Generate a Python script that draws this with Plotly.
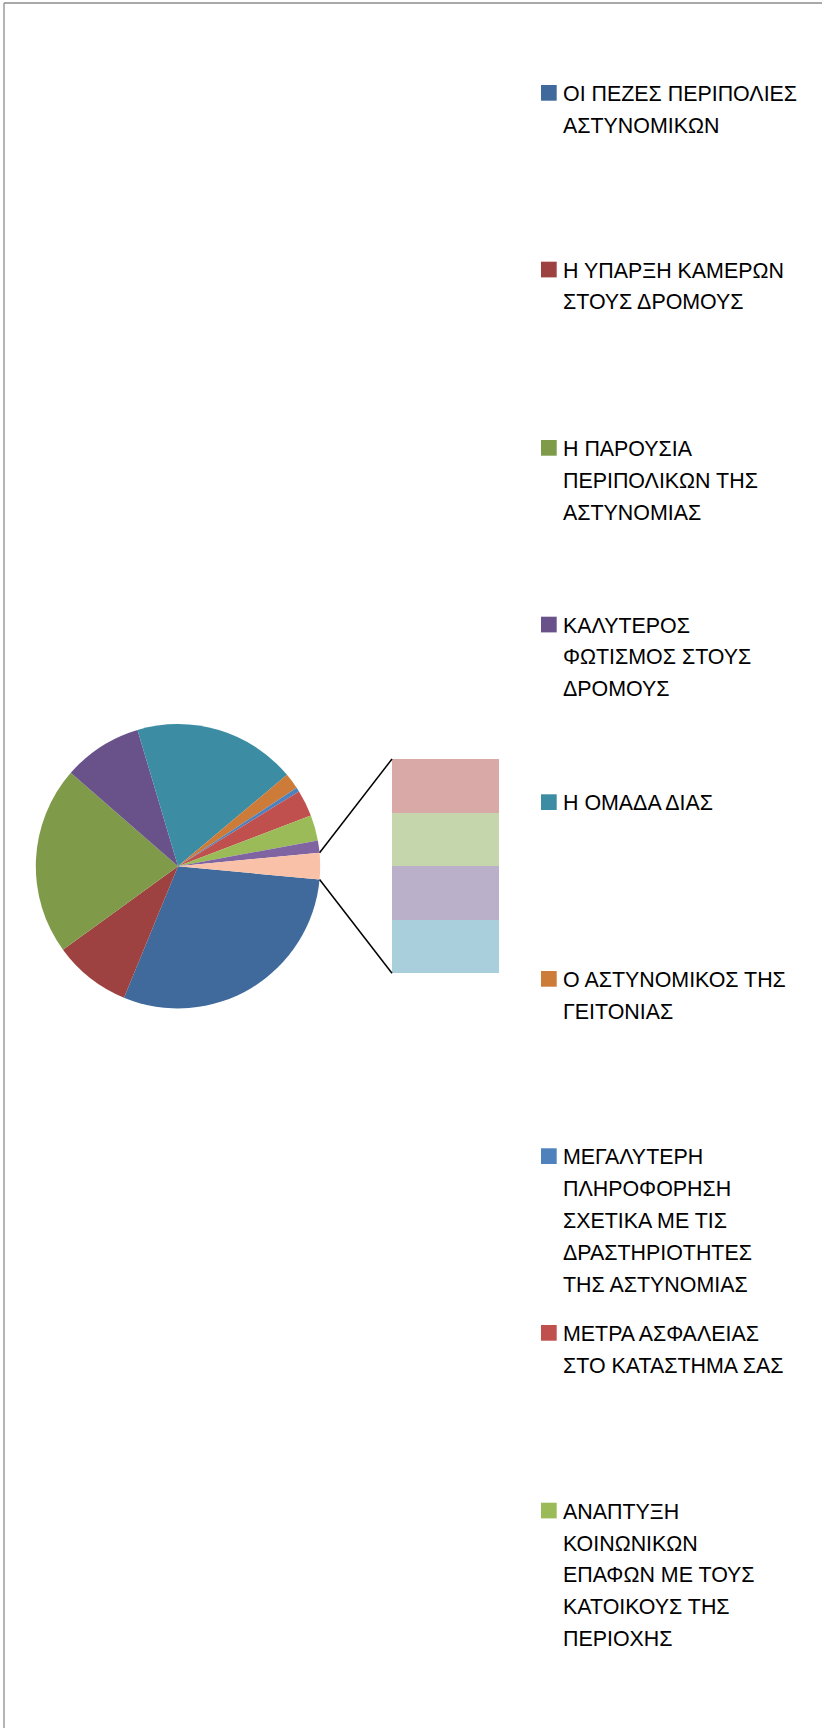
import math
import plotly.graph_objects as go

# ---------------- data ----------------
categories = [
    "ΟΙ ΠΕΖΕΣ ΠΕΡΙΠΟΛΙΕΣ ΑΣΤΥΝΟΜΙΚΩΝ",
    "Η ΥΠΑΡΞΗ ΚΑΜΕΡΩΝ ΣΤΟΥΣ ΔΡΟΜΟΥΣ",
    "Η ΠΑΡΟΥΣΙΑ ΠΕΡΙΠΟΛΙΚΩΝ ΤΗΣ ΑΣΤΥΝΟΜΙΑΣ",
    "ΚΑΛΥΤΕΡΟΣ ΦΩΤΙΣΜΟΣ ΣΤΟΥΣ ΔΡΟΜΟΥΣ",
    "Η ΟΜΑΔΑ ΔΙΑΣ",
    "Ο ΑΣΤΥΝΟΜΙΚΟΣ ΤΗΣ ΓΕΙΤΟΝΙΑΣ",
    "ΜΕΓΑΛΥΤΕΡΗ ΠΛΗΡΟΦΟΡΗΣΗ ΣΧΕΤΙΚΑ ΜΕ ΤΙΣ ΔΡΑΣΤΗΡΙΟΤΗΤΕΣ ΤΗΣ ΑΣΤΥΝΟΜΙΑΣ",
    "ΜΕΤΡΑ ΑΣΦΑΛΕΙΑΣ ΣΤΟ ΚΑΤΑΣΤΗΜΑ ΣΑΣ",
    "ΑΝΑΠΤΥΞΗ ΚΟΙΝΩΝΙΚΩΝ ΕΠΑΦΩΝ ΜΕ ΤΟΥΣ ΚΑΤΟΙΚΟΥΣ ΤΗΣ ΠΕΡΙΟΧΗΣ",
    "ΚΑΤΗΓΟΡΙΑ 10",
]
values = [29.7, 8.8, 21.4, 9.0, 18.5, 1.8, 0.5, 3.0, 2.9, 1.4]

# items shown in the secondary bar (listed top to bottom)
bar_categories = ["ΚΑΤΗΓΟΡΙΑ 11", "ΚΑΤΗΓΟΡΙΑ 12", "ΚΑΤΗΓΟΡΙΑ 13", "ΚΑΤΗΓΟΡΙΑ 14"]
bar_values = [0.75, 0.75, 0.75, 0.75]
other_label = "ΑΛΛΟ"

legend_lines = [
    ["ΟΙ ΠΕΖΕΣ ΠΕΡΙΠΟΛΙΕΣ", "ΑΣΤΥΝΟΜΙΚΩΝ"],
    ["Η ΥΠΑΡΞΗ ΚΑΜΕΡΩΝ", "ΣΤΟΥΣ ΔΡΟΜΟΥΣ"],
    ["Η ΠΑΡΟΥΣΙΑ", "ΠΕΡΙΠΟΛΙΚΩΝ ΤΗΣ", "ΑΣΤΥΝΟΜΙΑΣ"],
    ["ΚΑΛΥΤΕΡΟΣ", "ΦΩΤΙΣΜΟΣ ΣΤΟΥΣ", "ΔΡΟΜΟΥΣ"],
    ["Η ΟΜΑΔΑ ΔΙΑΣ"],
    ["Ο ΑΣΤΥΝΟΜΙΚΟΣ ΤΗΣ", "ΓΕΙΤΟΝΙΑΣ"],
    ["ΜΕΓΑΛΥΤΕΡΗ", "ΠΛΗΡΟΦΟΡΗΣΗ", "ΣΧΕΤΙΚΑ ΜΕ ΤΙΣ", "ΔΡΑΣΤΗΡΙΟΤΗΤΕΣ", "ΤΗΣ ΑΣΤΥΝΟΜΙΑΣ"],
    ["ΜΕΤΡΑ ΑΣΦΑΛΕΙΑΣ", "ΣΤΟ ΚΑΤΑΣΤΗΜΑ ΣΑΣ"],
    ["ΑΝΑΠΤΥΞΗ", "ΚΟΙΝΩΝΙΚΩΝ", "ΕΠΑΦΩΝ ΜΕ ΤΟΥΣ", "ΚΑΤΟΙΚΟΥΣ ΤΗΣ", "ΠΕΡΙΟΧΗΣ"],
]

# ---------------- styles ----------------
pie_colors = ["#3F6A9B", "#9D4240", "#7F9A48", "#69528A", "#3C8CA3",
              "#CC7B38", "#4F81BD", "#C0504D", "#9BBB59", "#8064A2"]
other_color = "#F9C2A8"
bar_colors = ["#D9A9A8", "#C6D6AC", "#BAB0C9", "#A9CEDC"]

W, H = 822, 1728
FONT = "Liberation Sans"

# pie geometry (pixels)
CX, CY, R = 178.0, 866.2, 142.2
# bar geometry (pixels)
BX0, BX1, BY0, BY1 = 392.0, 499.0, 759.0, 973.3


def px(x):
    return x / W


def py(y):
    return 1 - y / H


other_value = sum(bar_values)
pie_labels = categories + [other_label]
pie_values = values + [other_value]
total = sum(pie_values)
half = other_value / total * 360 / 2.0  # half-angle of the "other" slice

fig = go.Figure()

fig.add_trace(go.Pie(
    labels=pie_labels,
    values=pie_values,
    sort=False,
    direction="clockwise",
    rotation=90 + half,
    marker=dict(colors=pie_colors + [other_color], line=dict(width=0)),
    textinfo="none",
    hoverinfo="label+value",
    showlegend=False,
    domain=dict(x=[px(CX - R), px(CX + R)], y=[py(CY + R), py(CY - R)]),
))

# stacked bar: Plotly stacks first trace at bottom, list is top-to-bottom
for name, val, col in reversed(list(zip(bar_categories, bar_values, bar_colors))):
    fig.add_trace(go.Bar(
        x=[0], y=[val], name=name,
        marker=dict(color=col, line=dict(width=0)),
        width=1, showlegend=False,
    ))

shapes = []
# connector lines from the "other" slice edges to the bar corners
h = math.radians(half)
ux = CX + R * math.cos(h)
uy_top = CY - R * math.sin(h)
uy_bot = CY + R * math.sin(h)
shapes.append(dict(type="line", xref="paper", yref="paper",
                   x0=px(ux), y0=py(uy_top), x1=px(BX0), y1=py(BY0),
                   line=dict(color="black", width=1.5)))
shapes.append(dict(type="line", xref="paper", yref="paper",
                   x0=px(ux), y0=py(uy_bot), x1=px(BX0), y1=py(BY1),
                   line=dict(color="black", width=1.5)))

# chart-area border (left and top visible)
shapes.append(dict(type="line", xref="paper", yref="paper",
                   x0=px(4), y0=py(3), x1=px(4), y1=py(H + 5),
                   line=dict(color="#8C8C8C", width=1.3)))
shapes.append(dict(type="line", xref="paper", yref="paper",
                   x0=px(4), y0=py(3), x1=px(W + 5), y1=py(3),
                   line=dict(color="#8C8C8C", width=1.3)))

# legend
entry_tops = [85, 261.7, 440, 616.7, 794.3, 971, 1148.3, 1325, 1502.7]
pitch = 31.8
marker_size = 15.7
annotations = []
for i, lines in enumerate(legend_lines):
    top = entry_tops[i]
    shapes.append(dict(type="rect", xref="paper", yref="paper",
                       x0=px(541), x1=px(541 + marker_size), y0=py(top), y1=py(top + marker_size),
                       fillcolor=pie_colors[i], line=dict(width=0)))
    for k, line in enumerate(lines):
        cap_top = top + k * pitch
        annotations.append(dict(
            text=line, xref="paper", yref="paper",
            x=px(561), y=py(cap_top - 5), xanchor="left", yanchor="top",
            showarrow=False, font=dict(family=FONT, size=21.4, color="black"),
        ))

fig.update_layout(
    width=W, height=H, autosize=False,
    margin=dict(l=0, r=0, t=0, b=0),
    paper_bgcolor="white", plot_bgcolor="rgba(0,0,0,0)",
    barmode="stack", bargap=0,
    xaxis=dict(domain=[px(BX0), px(BX1)], range=[-0.5, 0.5], visible=False, fixedrange=True),
    yaxis=dict(domain=[py(BY1), py(BY0)], range=[0, other_value], visible=False, fixedrange=True),
    shapes=shapes,
    annotations=annotations,
    font=dict(family=FONT),
)

fig.write_html(
    "out.html",
    config={"displayModeBar": False},
    post_script="document.body.style.margin='0';document.body.style.overflow='hidden';",
)
